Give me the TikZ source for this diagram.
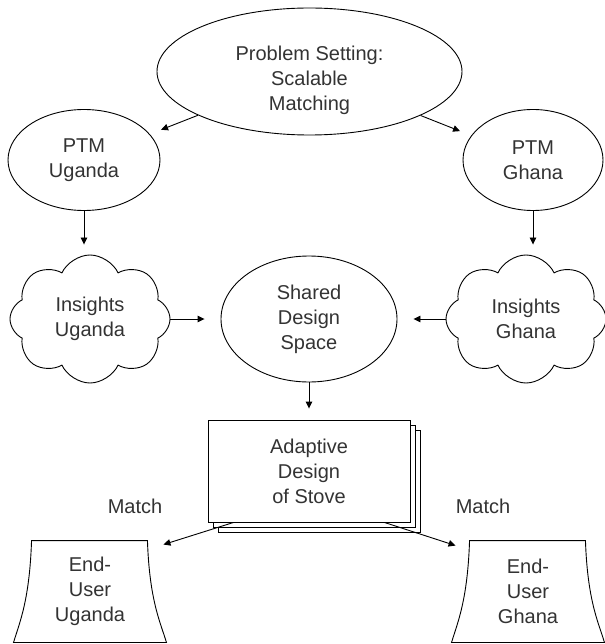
\documentclass[tikz,border=0pt]{standalone}
\usepackage{fontspec}
\setmainfont{Liberation Sans}
\usetikzlibrary{shapes.geometric, shapes.symbols, shadows, arrows.meta}

% flared outline around a plain node
\newcommand{\flarebox}[1]{%
    \draw ([xshift=18pt]#1.north west) -- ([xshift=-19pt]#1.north east)
        .. controls ([xshift=-17pt,yshift=-60pt]#1.north east) and ([xshift=-6pt,yshift=20pt]#1.south east) .. (#1.south east)
        -- (#1.south west)
        .. controls ([xshift=6pt,yshift=20pt]#1.south west) and ([xshift=16pt,yshift=-60pt]#1.north west) .. cycle;}

\begin{document}
\begin{tikzpicture}[x=1pt, y=-1pt,
        font=\fontsize{20}{25}\selectfont,
        every node/.style={align=center, text=black!80},
        line width=0.9pt]
        \useasboundingbox (0,0) rectangle (604,644);

        \begin{scope}[every node/.style={ellipse, draw, align=center, text=black!80, line width=0.9pt}]
            \node (prob) at (309.5, 71.5) [minimum width=305pt, minimum height=127pt] {};
            \node (ptmu) at (84, 160) [minimum width=152pt, minimum height=101pt] {PTM\\Uganda};
            \node (ptmg) at (533, 160) [minimum width=140pt, minimum height=101pt] {PTM\\Ghana};
            \node (shared) at (309, 319) [minimum width=176pt, minimum height=126pt] {Shared\\Design\\Space};
        \end{scope}
        \node (probtext) at (309.5, 80) {Problem Setting:\\Scalable\\Matching};

        \begin{scope}[every node/.style={cloud, cloud puffs=8, cloud puff arc=130, cloud ignores aspect,
                draw, align=center, text=black!80, line width=0.9pt, minimum width=160pt, minimum height=128pt}]
            \node (insu) at (90, 319) {Insights\\Uganda};
            \node (insg) at (526, 319) {Insights\\Ghana};
        \end{scope}

        \node (adapt) at (309, 471) [draw, fill=white, minimum width=202pt, minimum height=102pt,
            copy shadow={shadow xshift=10pt, shadow yshift=-10pt, draw, fill=white, line width=0.9pt},
            copy shadow={shadow xshift=5pt, shadow yshift=-5pt, draw, fill=white, line width=0.9pt}]
            {Adaptive\\Design\\of Stove};

        \node (euu) at (90, 591.5) [minimum width=152pt, minimum height=101pt] {End-\\User\\Uganda};
        \node (eug) at (528, 591.5) [minimum width=152pt, minimum height=101pt] {End-\\User\\Ghana};
        \flarebox{euu}
        \flarebox{eug}

        \node (matchu) at (135, 506) {Match};
        \node (matchg) at (483, 506) {Match};

        \begin{scope}[
            every edge/.style={draw, line width=0.9pt, -{Triangle[length=7pt, width=6.5pt]}}]
            \path (prob) edge [shorten >=12pt] (ptmu);
            \path (prob) edge [shorten >=12pt] (ptmg);
            \path (ptmu.south) edge [shorten >=10pt] (ptmu.south |- insu.north);
            \path (ptmg.south) edge [shorten >=10pt] (ptmg.south |- insg.north);
            \path (insu.east) edge [shorten >=16pt] (shared.west);
            \path (insg.west) edge [shorten >=16pt] (shared.east);
            \path (shared.south) edge [shorten >=11pt] (adapt.north);
            \path ([xshift=26pt]adapt.south west) edge ([shift={(-3pt,-4pt)}]euu.north east);
            \path ([xshift=-26pt]adapt.south east) edge ([shift={(4pt,-5pt)}]eug.north west);
        \end{scope}
\end{tikzpicture}
\end{document}
